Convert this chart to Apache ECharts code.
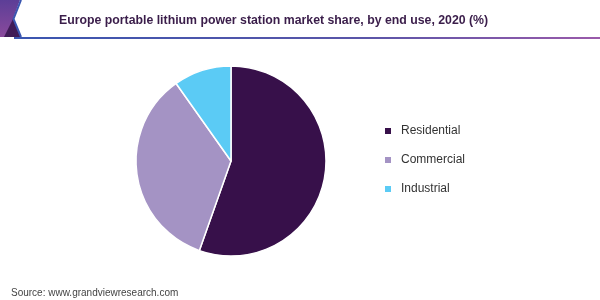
<!DOCTYPE html>
<html>
<head>
<meta charset="utf-8">
<script src="https://cdn.jsdelivr.net/npm/echarts@6/dist/echarts.min.js"></script>
<style>html,body{margin:0;padding:0;background:#fff}#c{width:600px;height:300px}</style>
</head>
<body>
<div id="c"></div>
<script>
const categories = ['Residential', 'Commercial', 'Industrial'];
const shares = [55.4, 34.8, 9.8];
const colors = ['#37104a', '#a493c4', '#5bcbf5'];

const chart = echarts.init(document.getElementById('c'), null, {renderer: 'canvas'});
chart.setOption({
  animation: false,
  color: colors,
  title: {
    text: 'Europe portable lithium power station market share, by end use, 2020 (%)',
    left: 54, top: 10,
    textStyle: {fontFamily: 'Liberation Sans, Arial', fontWeight: 'bold', fontSize: 12.3, color: '#3a1d4a'}
  },
  legend: {
    orient: 'vertical',
    left: 378, top: 120,
    icon: 'rect', itemWidth: 8, itemHeight: 8, itemGap: 17,
    textStyle: {fontFamily: 'Liberation Sans, Arial', fontSize: 12, color: '#333', padding: [0,0,0,4]},
    data: categories
  },
  graphic: [
    {type: 'polygon', shape: {points: [[0,0],[20,0],[13,19],[21,37],[0,37]]},
     style: {fill: new echarts.graphic.LinearGradient(0,0,0,1,[{offset:0,color:'#5c3e97'},{offset:1,color:'#8a4a9c'}])}},
    {type: 'polygon', shape: {points: [[13,19],[21,37],[4,37]]}, style: {fill: '#3f1b56'}},
    {type: 'polyline', shape: {points: [[21,0],[13.5,19],[21,37]]}, style: {stroke: '#3a56b0', lineWidth: 2, fill: null}},
    {type: 'rect', shape: {x: 14, y: 37, width: 586, height: 2},
     style: {fill: new echarts.graphic.LinearGradient(0,0,1,0,[{offset:0,color:'#3a56b0'},{offset:0.6,color:'#5a55a8'},{offset:1,color:'#9a5aaa'}])}},
    {type: 'text', left: 11, top: 288,
     style: {text: 'Source: www.grandviewresearch.com', fontFamily: 'Liberation Sans, Arial', fontSize: 10, fill: '#444'}}
  ],
  series: [{
    type: 'pie',
    center: [231, 161],
    radius: 95,
    startAngle: 90,
    clockwise: true,
    label: {show: false},
    labelLine: {show: false},
    itemStyle: {borderColor: '#fff', borderWidth: 1.5},
    emphasis: {disabled: true},
    data: categories.map((c, i) => ({name: c, value: shares[i]}))
  }]
});
</script>
</body>
</html>
